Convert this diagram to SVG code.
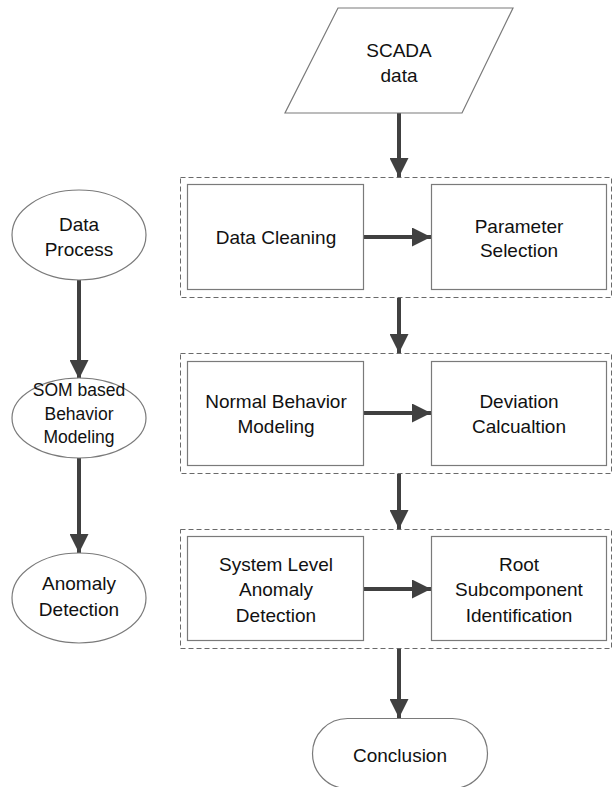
<svg xmlns="http://www.w3.org/2000/svg" width="613" height="787" viewBox="0 0 613 787">
  <style>
    .shape { fill: #ffffff; stroke: #7a7a7a; stroke-width: 1.2; }
    .group { fill: none; stroke: #6a6a6a; stroke-width: 1; stroke-dasharray: 5 3; }
    .flow { fill: none; stroke: #404040; stroke-width: 4; }
    text { font-family: "Liberation Sans", Arial, sans-serif; font-size: 19px; fill: #111111; text-anchor: middle; }
    text.tight { font-size: 17.5px; }
  </style>
  <defs>
    <marker id="head" markerUnits="userSpaceOnUse" markerWidth="19" markerHeight="19" viewBox="0 0 19 19" refX="19" refY="9.5" orient="auto">
      <path d="M0,0 L19,9.5 L0,19 Z" fill="#404040"/>
    </marker>
  </defs>

  <!-- stage frames -->
  <g id="stages">
    <rect class="group" x="180.5" y="177.5" width="431" height="120"/>
    <rect class="group" x="180.5" y="353.5" width="431" height="120"/>
    <rect class="group" x="180.5" y="529.5" width="431" height="119"/>
  </g>

  <!-- connectors -->
  <g id="connectors">
    <line class="flow" x1="399" y1="113" x2="399" y2="177" marker-end="url(#head)"/>
    <line class="flow" x1="399" y1="298" x2="399" y2="353" marker-end="url(#head)"/>
    <line class="flow" x1="399" y1="474" x2="399" y2="529" marker-end="url(#head)"/>
    <line class="flow" x1="399" y1="649" x2="399" y2="718" marker-end="url(#head)"/>
    <line class="flow" x1="364" y1="237" x2="431" y2="237" marker-end="url(#head)"/>
    <line class="flow" x1="364" y1="413" x2="431" y2="413" marker-end="url(#head)"/>
    <line class="flow" x1="364" y1="589" x2="431" y2="589" marker-end="url(#head)"/>
    <line class="flow" x1="79" y1="280" x2="79" y2="379" marker-end="url(#head)"/>
    <line class="flow" x1="79" y1="458" x2="79" y2="553" marker-end="url(#head)"/>
  </g>

  <!-- input -->
  <g id="scada">
    <polygon class="shape" points="338,8 513,8 462,113 285,113"/>
    <text x="399" y="57">SCADA</text>
    <text x="399" y="82">data</text>
  </g>

  <!-- process steps -->
  <g id="data-cleaning">
    <rect class="shape" x="187.5" y="184.5" width="176" height="105"/>
    <text x="276" y="244">Data Cleaning</text>
  </g>
  <g id="parameter-selection">
    <rect class="shape" x="431.5" y="184.5" width="175" height="105"/>
    <text x="519" y="233">Parameter</text>
    <text x="519" y="257">Selection</text>
  </g>
  <g id="normal-behavior">
    <rect class="shape" x="187.5" y="361.5" width="176" height="104"/>
    <text x="276" y="408">Normal Behavior</text>
    <text x="276" y="433">Modeling</text>
  </g>
  <g id="deviation">
    <rect class="shape" x="431.5" y="361.5" width="175" height="104"/>
    <text x="519" y="408">Deviation</text>
    <text x="519" y="433">Calcualtion</text>
  </g>
  <g id="system-level">
    <rect class="shape" x="187.5" y="536.5" width="176" height="104"/>
    <text x="276" y="571">System Level</text>
    <text x="276" y="596">Anomaly</text>
    <text x="276" y="622">Detection</text>
  </g>
  <g id="root-subcomponent">
    <rect class="shape" x="431.5" y="536.5" width="175" height="104"/>
    <text x="519" y="571">Root</text>
    <text x="519" y="596">Subcomponent</text>
    <text x="519" y="622">Identification</text>
  </g>

  <!-- terminator -->
  <g id="conclusion">
    <rect class="shape" x="312.5" y="718.5" width="175" height="70" rx="35" ry="35"/>
    <text x="400" y="762">Conclusion</text>
  </g>

  <!-- phase labels -->
  <g id="data-process">
    <ellipse class="shape" cx="79" cy="235" rx="67" ry="45"/>
    <text x="79" y="231">Data</text>
    <text x="79" y="256">Process</text>
  </g>
  <g id="som-modeling">
    <ellipse class="shape" cx="79" cy="418" rx="67" ry="40"/>
    <text class="tight" x="79" y="396">SOM based</text>
    <text class="tight" x="79" y="420">Behavior</text>
    <text class="tight" x="79" y="443">Modeling</text>
  </g>
  <g id="anomaly-detection">
    <ellipse class="shape" cx="79" cy="598" rx="67" ry="45"/>
    <text x="79" y="590">Anomaly</text>
    <text x="79" y="616">Detection</text>
  </g>
</svg>
